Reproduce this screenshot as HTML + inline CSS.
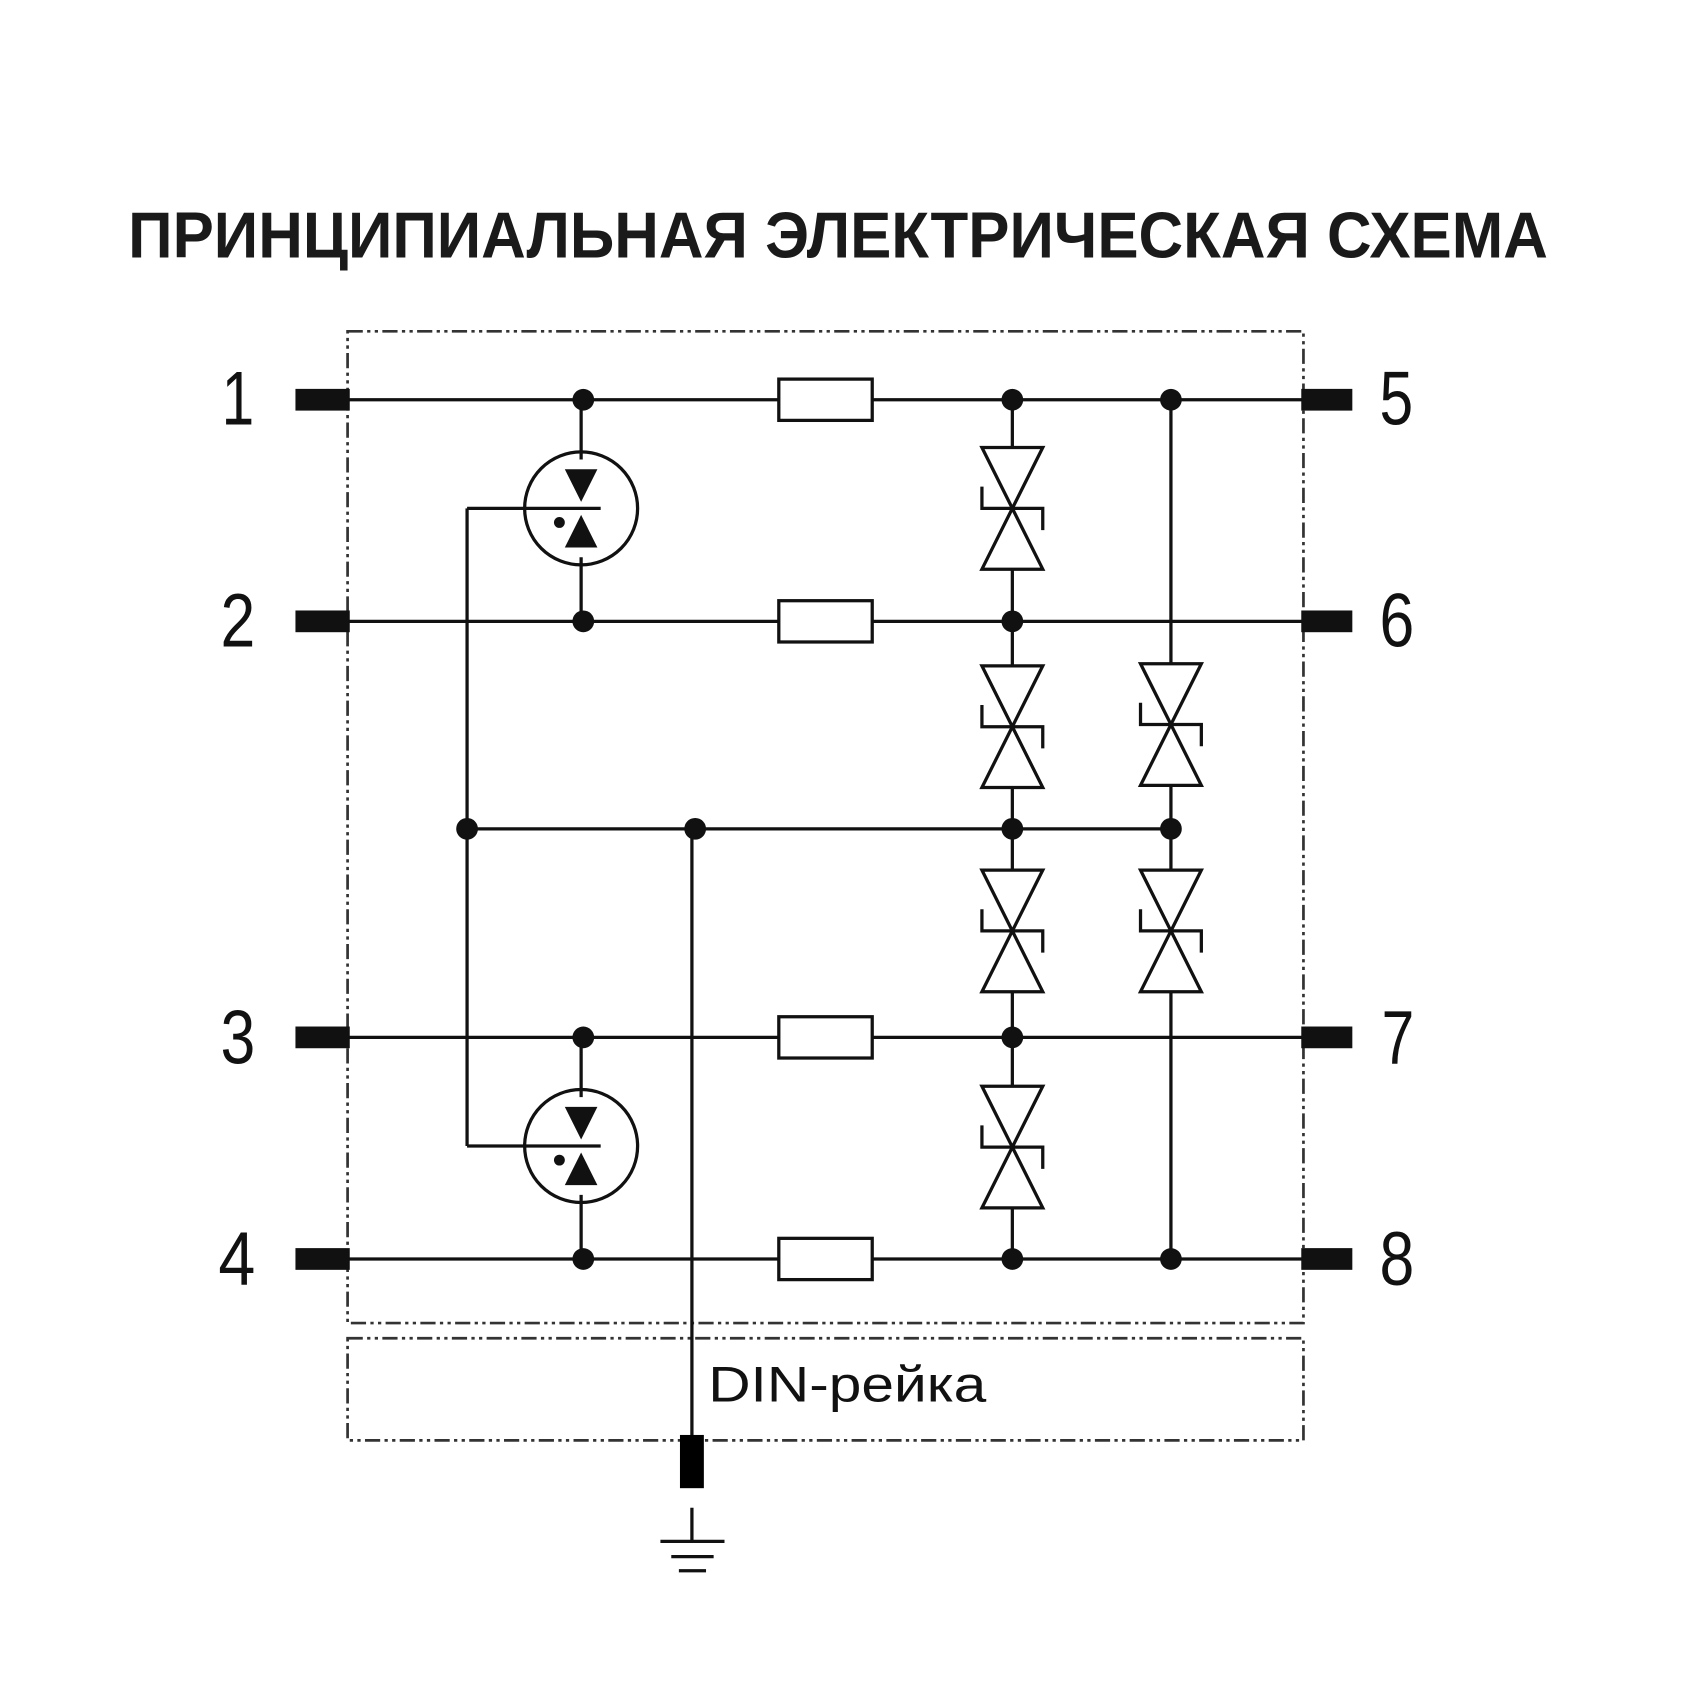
<!DOCTYPE html>
<html><head><meta charset="utf-8"><style>html,body{margin:0;padding:0;background:#fff}svg{display:block}</style></head>
<body>
<svg width="1701" height="1700" viewBox="0 0 1566 1565" preserveAspectRatio="none" xmlns="http://www.w3.org/2000/svg">
<defs>
<g id="tvs">
<path d="M-28,-56 L28,-56 L0,0 Z M-28,56 L28,56 L0,0 Z" fill="#fff" stroke="#111" stroke-width="3"/>
<path d="M-28,-20 L-28,0 L28,0 L28,20" fill="none" stroke="#111" stroke-width="3"/>
</g>
<g id="gdt">
<circle cx="0" cy="0" r="52" fill="#fff" stroke="#111" stroke-width="3"/>
<line x1="0" y1="-100" x2="0" y2="-45" stroke="#111" stroke-width="3"/>
<line x1="0" y1="45" x2="0" y2="104" stroke="#111" stroke-width="3"/>
<path d="M-15,-36 L15,-36 L0,-6 Z" fill="#111"/>
<path d="M-15,36 L15,36 L0,6 Z" fill="#111"/>
<line x1="-105" y1="0" x2="18" y2="0" stroke="#111" stroke-width="3"/>
<circle cx="-20" cy="13" r="5" fill="#111"/>
</g>
</defs>
<text x="118" y="237" font-family="Liberation Sans, sans-serif" font-weight="bold" font-size="60" fill="#1a1a1a" textLength="1307" lengthAdjust="spacingAndGlyphs">ПРИНЦИПИАЛЬНАЯ ЭЛЕКТРИЧЕСКАЯ СХЕМА</text>
<g fill="none" stroke="#333" stroke-width="2.5" stroke-dasharray="14,4,3,4,3,4">
<rect x="320" y="305" width="880" height="913"/>
<rect x="320" y="1232" width="880" height="94"/>
</g>
<g stroke="#111" stroke-width="3" fill="none">
<line x1="320" y1="368" x2="1200" y2="368"/>
<line x1="320" y1="572" x2="1200" y2="572"/>
<line x1="320" y1="955" x2="1200" y2="955"/>
<line x1="320" y1="1159" x2="1200" y2="1159"/>
<line x1="430" y1="763" x2="1078" y2="763"/>
<line x1="430" y1="468" x2="430" y2="1055"/>
<line x1="637" y1="763" x2="637" y2="1326"/>
<line x1="932" y1="368" x2="932" y2="1159"/>
<line x1="1078" y1="368" x2="1078" y2="1159"/>
<line x1="637" y1="1388" x2="637" y2="1419"/>
<line x1="608" y1="1419" x2="667" y2="1419"/>
<line x1="618" y1="1433" x2="657" y2="1433"/>
<line x1="625" y1="1446" x2="650" y2="1446"/>
</g>
<rect x="626" y="1321" width="22" height="49" fill="#000"/>
<g fill="#fff" stroke="#111" stroke-width="3">
<rect x="717" y="349" width="86" height="38"/>
<rect x="717" y="553" width="86" height="38"/>
<rect x="717" y="936" width="86" height="38"/>
<rect x="717" y="1140" width="86" height="38"/>
</g>
<use href="#gdt" x="535" y="468"/>
<use href="#gdt" x="535" y="1055"/>
<use href="#tvs" x="932" y="468"/>
<use href="#tvs" x="932" y="669"/>
<use href="#tvs" x="932" y="857"/>
<use href="#tvs" x="932" y="1056"/>
<use href="#tvs" x="1078" y="667"/>
<use href="#tvs" x="1078" y="857"/>
<g fill="#111">
<circle cx="537" cy="368" r="10"/><circle cx="537" cy="572" r="10"/>
<circle cx="537" cy="955" r="10"/><circle cx="537" cy="1159" r="10"/>
<circle cx="932" cy="368" r="10"/><circle cx="932" cy="572" r="10"/>
<circle cx="932" cy="763" r="10"/><circle cx="932" cy="955" r="10"/><circle cx="932" cy="1159" r="10"/>
<circle cx="1078" cy="368" r="10"/><circle cx="1078" cy="763" r="10"/><circle cx="1078" cy="1159" r="10"/>
<circle cx="430" cy="763" r="10"/><circle cx="640" cy="763" r="10"/>
<rect x="272" y="358" width="50" height="20"/><rect x="272" y="562" width="50" height="20"/>
<rect x="272" y="945" width="50" height="20"/><rect x="272" y="1149" width="50" height="20"/>
<rect x="1198" y="358" width="47" height="20"/><rect x="1198" y="562" width="47" height="20"/>
<rect x="1198" y="945" width="47" height="20"/><rect x="1198" y="1149" width="47" height="20"/>
</g>
<g font-family="Liberation Sans, sans-serif" font-size="70" fill="#111">
<text x="204" y="391" textLength="30" lengthAdjust="spacingAndGlyphs">1</text>
<text x="203" y="595" textLength="32" lengthAdjust="spacingAndGlyphs">2</text>
<text x="203" y="979" textLength="32" lengthAdjust="spacingAndGlyphs">3</text>
<text x="201" y="1183" textLength="34" lengthAdjust="spacingAndGlyphs">4</text>
<text x="1270" y="391" textLength="31" lengthAdjust="spacingAndGlyphs">5</text>
<text x="1270" y="595" textLength="32" lengthAdjust="spacingAndGlyphs">6</text>
<text x="1272" y="979" textLength="30" lengthAdjust="spacingAndGlyphs">7</text>
<text x="1270" y="1183" textLength="32" lengthAdjust="spacingAndGlyphs">8</text>
</g>
<text x="652" y="1290" font-family="Liberation Sans, sans-serif" font-size="46" fill="#111" textLength="256" lengthAdjust="spacingAndGlyphs">DIN-рейка</text>
</svg>
</body></html>
